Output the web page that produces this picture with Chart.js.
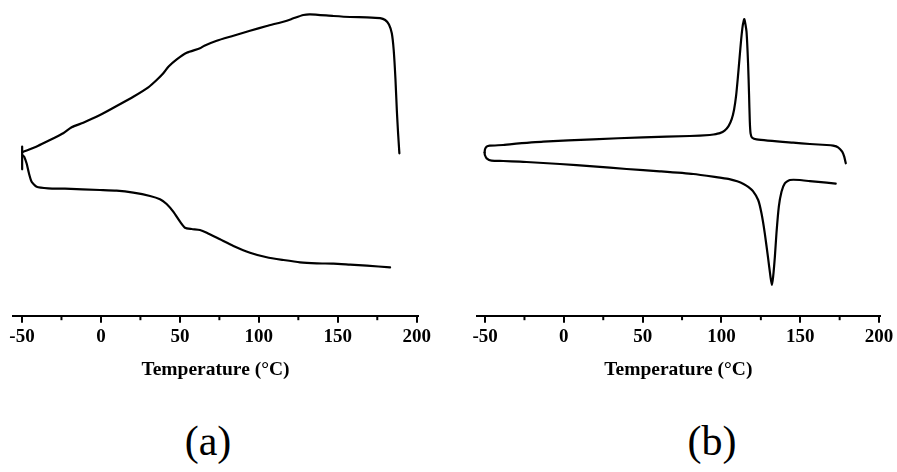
<!DOCTYPE html>
<html>
<head>
<meta charset="utf-8">
<script src="https://cdn.jsdelivr.net/npm/chart.js@4.4.1/dist/chart.umd.min.js"></script>
<style>
  html, body { margin: 0; padding: 0; background: #fff; }
  body { width: 897px; height: 472px; position: relative; overflow: hidden; }
  canvas { position: absolute; top: 0; }
  #ca { left: 0; }
  #cb { left: 450px; }
  .panel { position: absolute; top: 420px; width: 100px; text-align: center;
           font-family: 'Liberation Serif', 'Times New Roman', serif; font-size: 42px; line-height: 1; color: #000; }
</style>
</head>
<body>
<canvas id="ca" width="450" height="400"></canvas>
<canvas id="cb" width="447" height="400"></canvas>
<div class="panel" style="left:158px">(a)</div>
<div class="panel" style="left:662px">(b)</div>
<script>
// ---- tick values ----
const majorTicks = [-50, 0, 50, 100, 150, 200];
const minorTicks = [-25, 25, 75, 125, 175];
const axisTitle = 'Temperature (°C)';

// ---- panel (a) : temperature (°C) and heat flow (arbitrary units) ----
const aStubT = [-49.9, -49.9];
const aStubH = [146.4, 169.0];

const aUpperT = [-49.9, -47.0, -43.0, -39.7, -36.5, -30.0, -23.9, -18.6, -11.2, -0.6, 9.9, 20.5, 30.0, 35.3, 39.5, 42.7, 48.0, 54.3, 62.7, 65.5, 73.3, 83.9, 94.4, 105.0, 117.7, 121.9, 128.2, 132.5, 147.2, 157.8, 168.4, 176.8, 180.0, 182.4, 184.2, 185.4, 186.5, 187.4, 188.2, 189.0];
const aUpperH = [163.5, 165.3, 167.8, 170.0, 172.5, 177.5, 182.4, 188.4, 193.0, 200.7, 209.7, 219.0, 228.4, 235.7, 242.4, 249.0, 256.4, 263.0, 267.4, 270.0, 275.0, 280.0, 285.0, 289.7, 295.0, 297.4, 300.7, 301.4, 299.7, 298.7, 298.4, 297.6, 295.7, 291.2, 282.4, 265.7, 237.0, 205.0, 182.0, 162.4];

const aLowerT = [-49.6, -48.6, -47.1, -45.6, -43.9, -40.7, -33.4, -22.8, -0.6, 9.9, 20.5, 31.1, 37.4, 41.6, 45.8, 50.1, 53.2, 57.5, 62.7, 67.0, 75.4, 83.9, 94.4, 105.0, 115.6, 126.1, 136.7, 147.2, 157.8, 168.4, 183.1];
const aLowerH = [160.5, 159.0, 152.4, 142.4, 134.0, 129.0, 127.4, 127.0, 125.7, 125.0, 123.0, 119.7, 116.4, 111.7, 104.0, 94.0, 88.0, 86.7, 85.7, 83.0, 76.4, 69.7, 63.0, 58.4, 55.7, 53.4, 52.4, 52.0, 51.0, 50.0, 48.4];

// ---- panel (b) ----
const bCoolT = [-50.3, -50.0, -49.0, -47.0, -38.5, -34.3, -13.1, 18.6, 50.3, 79.9, 92.6, 95.0, 99.0, 102.0, 104.5, 106.5, 108.0, 109.3, 110.4, 111.5, 112.5, 113.5, 114.5, 115.9, 116.9, 117.5, 118.0, 118.5, 119.5, 122.3, 145.5, 156.1, 166.7, 170.9, 174.0, 176.6, 177.9, 178.9];
const bCoolH = [163.2, 166.5, 169.0, 170.0, 170.7, 171.4, 174.0, 176.4, 178.4, 179.7, 180.7, 181.2, 182.6, 185.0, 189.5, 196.5, 206.0, 220.0, 238.0, 258.0, 276.0, 290.0, 296.5, 284.0, 252.0, 222.0, 194.0, 182.0, 178.0, 176.4, 173.0, 171.7, 170.7, 170.0, 168.4, 164.0, 159.0, 152.4];

const bHeatT = [-50.3, -50.1, -49.0, -45.9, -38.5, -27.9, -23.7, -2.5, 18.6, 39.8, 60.9, 82.1, 99.0, 105.0, 110.0, 114.0, 117.0, 120.0, 123.3, 125.4, 127.5, 129.6, 131.1, 132.0, 132.8, 133.9, 134.9, 136.4, 138.1, 140.2, 143.4, 149.7, 156.1, 166.7, 172.5];
const bHeatH = [163.2, 160.7, 157.4, 155.0, 154.7, 154.0, 153.7, 151.7, 149.4, 146.7, 144.4, 141.7, 138.0, 136.6, 134.4, 131.8, 128.8, 124.5, 115.7, 102.4, 82.4, 57.5, 39.0, 30.7, 39.0, 59.0, 82.4, 109.0, 124.0, 132.4, 135.7, 135.7, 134.5, 133.0, 132.0];

const pts = (xs, ys) => xs.map((x, i) => ({ x: x, y: ys[i] }));

const serif = "'Liberation Serif', 'Times New Roman', serif";

const minorTickPlugin = {
  id: 'minorTicks',
  afterDraw(chart) {
    const s = chart.scales.x;
    const ctx = chart.ctx;
    ctx.save();
    ctx.strokeStyle = '#000';
    ctx.lineWidth = 2;
    minorTicks.forEach(v => {
      const px = s.getPixelForValue(v);
      ctx.beginPath();
      ctx.moveTo(px, s.top);
      ctx.lineTo(px, s.top + 4.5);
      ctx.stroke();
    });
    ctx.restore();
  }
};

function lineDs(data) {
  return {
    data: data, showLine: true, borderColor: '#000', backgroundColor: '#000',
    borderWidth: 2.2, pointRadius: 0, tension: 0.2, fill: false,
    borderJoinStyle: 'round', borderCapStyle: 'round'
  };
}

function makeChart(id, datasets, xMin, xMax, pad) {
  return new Chart(document.getElementById(id), {
    type: 'scatter',
    data: { datasets: datasets },
    options: {
      responsive: false, animation: false, devicePixelRatio: 1,
      layout: { padding: pad },
      plugins: { legend: { display: false }, tooltip: { enabled: false }, title: { display: false } },
      scales: {
        x: {
          type: 'linear', min: xMin, max: xMax,
          afterBuildTicks: axis => { axis.ticks = majorTicks.map(v => ({ value: v })); },
          ticks: { callback: v => String(v), color: '#000', padding: 3, maxRotation: 0, autoSkip: false,
                   font: { family: serif, size: 19, weight: 'bold' } },
          grid: { display: true, drawOnChartArea: false, drawTicks: true, tickLength: 7, tickWidth: 2, lineWidth: 2, color: '#000', tickColor: '#000' },
          border: { display: true, width: 2, color: '#000' },
          title: { display: true, text: axisTitle, color: '#000', padding: { top: 7, bottom: 4 },
                   font: { family: serif, size: 19.5, weight: 'bold' } }
        },
        y: { display: false, min: 0, max: 315.7 }
      }
    },
    plugins: [minorTickPlugin]
  });
}

makeChart('ca', [lineDs(pts(aStubT, aStubH)), lineDs(pts(aUpperT, aUpperH)), lineDs(pts(aLowerT, aLowerH))],
  -55.5, 200.6, { left: 13.3, right: 32.3, top: 0, bottom: 14.1 });
makeChart('cb', [lineDs(pts(bCoolT, bCoolH)), lineDs(pts(bHeatT, bHeatH))],
  -55.3, 200.6, { left: 26.7, right: 17, top: 0, bottom: 14.1 });
</script>
</body>
</html>
